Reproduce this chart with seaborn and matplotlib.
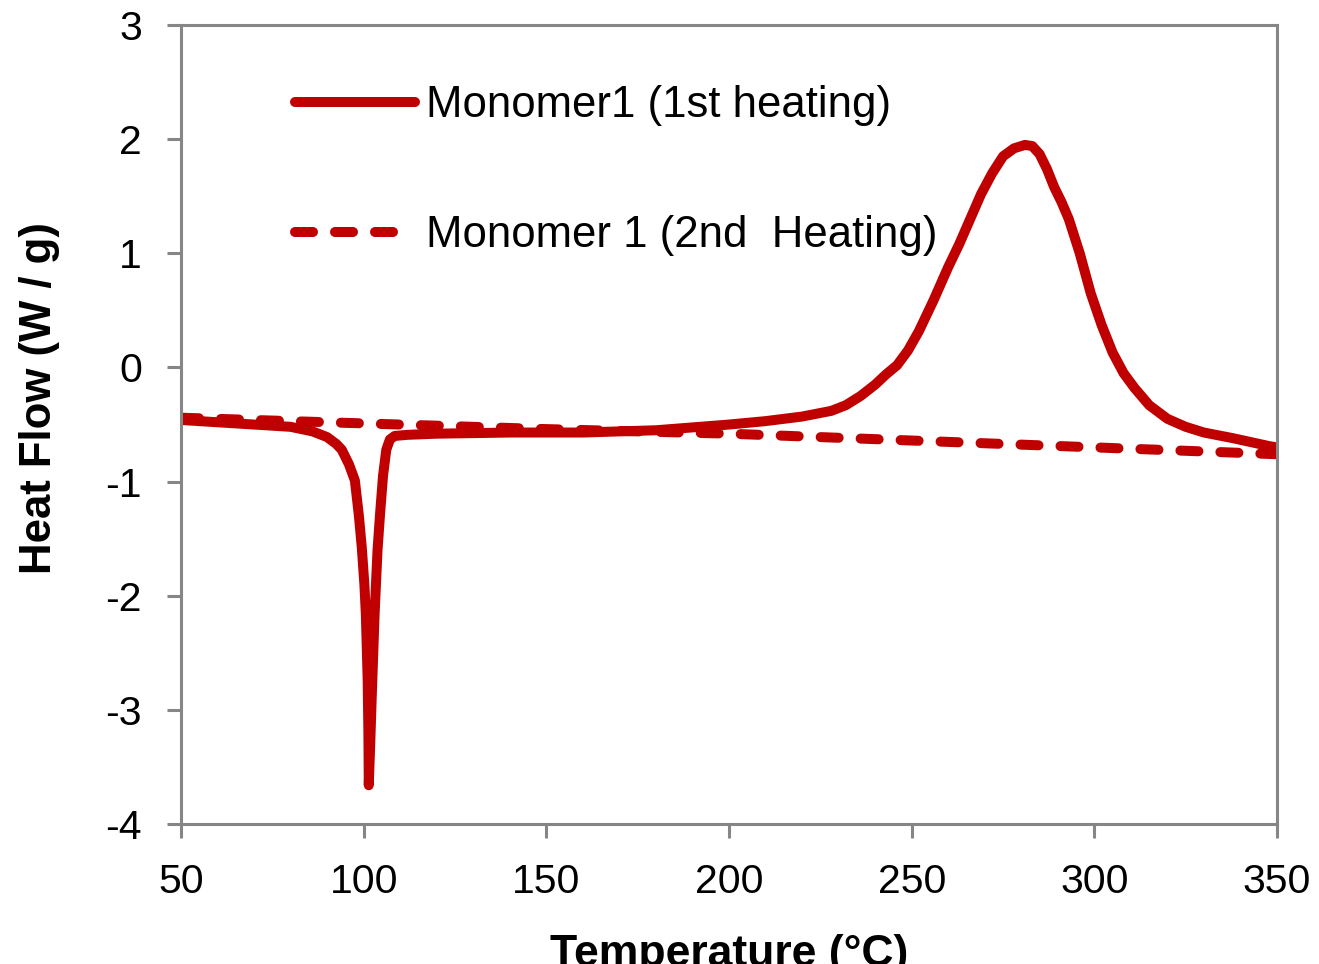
import matplotlib
matplotlib.use("Agg")
import matplotlib.pyplot as plt
import seaborn as sns
import pandas as pd

# DSC curves
temp_1st = [50, 60, 70, 80, 86, 90, 92.5, 94, 96, 97.6, 98.7, 99.5, 100.2, 100.6,
            101.1, 101.3, 101.4, 101.8, 102.2, 103.0, 103.8, 104.5, 105.3, 106.2,
            107.2, 108.5, 112, 120, 140, 160, 180, 200, 210, 220, 228, 232, 236,
            240, 243, 246, 249, 252, 256, 260, 263, 266, 269, 272, 275, 278, 281,
            283, 285, 287, 289, 291, 293, 296, 299, 302, 305, 308, 311, 315, 320,
            325, 330, 338, 348, 350]
flow_1st = [-0.46, -0.48, -0.50, -0.52, -0.56, -0.61, -0.67, -0.72, -0.85, -0.99,
            -1.30, -1.58, -1.90, -2.16, -2.74, -3.20, -3.66, -3.30, -2.90, -2.16,
            -1.60, -1.28, -0.95, -0.72, -0.63, -0.60, -0.59, -0.58, -0.57, -0.57,
            -0.55, -0.50, -0.47, -0.43, -0.38, -0.33, -0.25, -0.15, -0.06, 0.02,
            0.15, 0.32, 0.59, 0.88, 1.08, 1.30, 1.52, 1.70, 1.85, 1.92, 1.95,
            1.94, 1.87, 1.74, 1.58, 1.45, 1.30, 1.00, 0.65, 0.37, 0.13, -0.05,
            -0.18, -0.33, -0.45, -0.52, -0.57, -0.62, -0.69, -0.70]

temp_2nd = [50, 100, 150, 200, 250, 300, 350]
flow_2nd = [-0.44, -0.49, -0.54, -0.58, -0.64, -0.70, -0.76]

labels = ["Monomer1 (1st heating)", "Monomer 1 (2nd  Heating)"]
x_ticks = [50, 100, 150, 200, 250, 300, 350]
y_ticks = [-4, -3, -2, -1, 0, 1, 2, 3]

red = "#C00000"
grey = "#868686"

sns.set_style("white")
plt.rcParams["font.family"] = ["Liberation Sans", "DejaVu Sans"]
plt.rcParams["axes.unicode_minus"] = False
plt.rcParams["text.color"] = "black"
plt.rcParams["axes.labelcolor"] = "black"

fig = plt.figure(figsize=(13.19, 9.64), dpi=100)
ax = fig.add_axes([0.1372, 0.1452, 0.831, 0.8288])

df1 = pd.DataFrame({"T": temp_1st, "HF": flow_1st})
df2 = pd.DataFrame({"T": temp_2nd, "HF": flow_2nd})

sns.lineplot(data=df2, x="T", y="HF", ax=ax, color=red, linewidth=7.2,
             estimator=None, sort=False, label=labels[1])
dashed = ax.lines[-1]
dashed.set_dashes((1.8, 2.2))
dashed.set_dash_capstyle("round")

sns.lineplot(data=df1, x="T", y="HF", ax=ax, color=red, linewidth=7.2,
             estimator=None, sort=False, label=labels[0])
solid = ax.lines[-1]
solid.set_solid_capstyle("round")
solid.set_solid_joinstyle("round")

ax.set_xlim(50, 350)
ax.set_ylim(-4, 3)
ax.set_xticks(x_ticks)
ax.set_yticks(y_ticks)

for s in ax.spines.values():
    s.set_color(grey)
    s.set_linewidth(2.2)
ax.tick_params(axis="both", bottom=True, left=True, direction="out", length=10,
               width=2.2, color=grey, labelsize=29.5, labelcolor="black", pad=18)

ax.set_xlabel("Temperature (°C)", fontsize=32, fontweight="bold")
ax.set_ylabel("Heat Flow (W / g)", fontsize=31.5, fontweight="bold")
ax.xaxis.set_label_coords(0.5, -0.138)
ax.yaxis.set_label_coords(-0.11, 0.533)

handles = [solid, dashed]
leg = ax.legend(handles, labels, loc="upper left", bbox_to_anchor=(0.104, 0.925),
                frameon=False, fontsize=31.5, handlelength=2.74, handletextpad=0.25,
                labelspacing=2.04, borderpad=0, borderaxespad=0)
for t in leg.get_texts():
    t.set_color("black")

fig.savefig("out.png", dpi=100)
